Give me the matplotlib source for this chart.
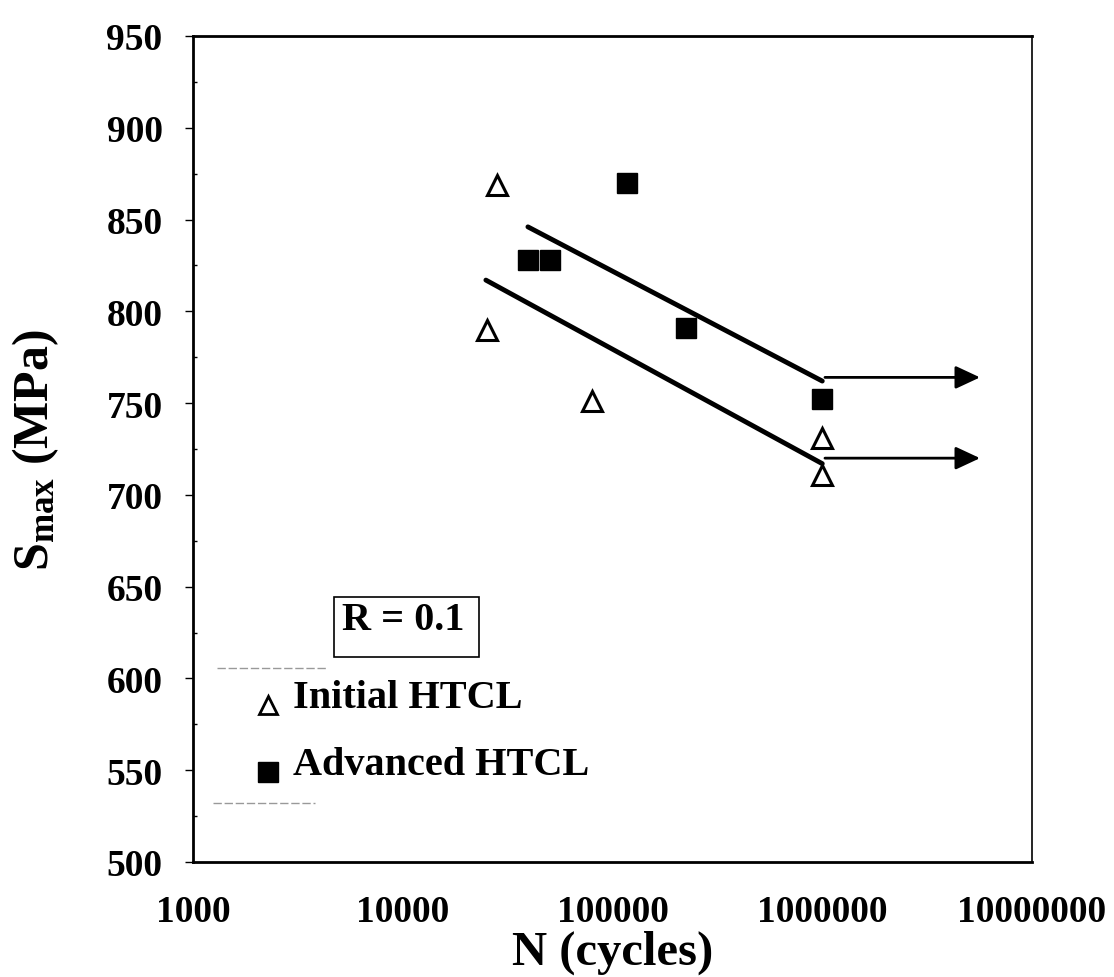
import numpy as np
import matplotlib
matplotlib.use('Agg')
from matplotlib import pyplot as plt

plt.rcParams['font.family'] = ['Liberation Serif', 'DejaVu Serif']
plt.rcParams['font.weight'] = 'bold'
plt.rcParams['mathtext.fontset'] = 'custom'
plt.rcParams['mathtext.rm'] = 'Liberation Serif:bold'
plt.rcParams['mathtext.bf'] = 'Liberation Serif:bold'
plt.rcParams['mathtext.it'] = 'Liberation Serif:bold'

# data
init_N = [28100, 25200, 79800, 1000000, 1000000]
init_S = [869, 790, 751, 731, 711]
adv_N = [117000, 39500, 50300, 224000, 1000000]
adv_S = [870, 828, 828, 791, 752]

# fitted lines
adv_fit_N = [39500, 1000000]
adv_fit_S = [846, 762]
init_fit_N = [24900, 1000000]
init_fit_S = [817, 717]

# run-out arrows (start N, end N, S)
runout_N = [1030000, 5650000]
runout_S = [764, 720]

xticks = [1000, 10000, 100000, 1000000, 10000000]
yticks = list(range(500, 951, 50))

fig = plt.figure(figsize=(11.14, 9.78), dpi=100)
ax = fig.add_axes([0.1733, 0.1176, 0.7531, 0.8446])

ax.plot(init_fit_N, init_fit_S, color='black', lw=3.5, solid_capstyle='round')
ax.plot(adv_fit_N, adv_fit_S, color='black', lw=3.5, solid_capstyle='round')

for s in runout_S:
    ax.annotate('', xy=(runout_N[1], s), xytext=(runout_N[0], s),
                arrowprops=dict(arrowstyle='-|>,head_length=0.75,head_width=0.35',
                                mutation_scale=20, color='black', lw=2,
                                shrinkA=0, shrinkB=0))

ax.plot(init_N, init_S, linestyle='none', marker='^', markersize=14,
        markerfacecolor='white', markeredgecolor='black', markeredgewidth=2.2)
ax.plot(adv_N, adv_S, linestyle='none', marker='s', markersize=15,
        markerfacecolor='black', markeredgecolor='black')

ax.set_xscale('log')
ax.set_xlim(1000, 10000000)
ax.set_ylim(500, 950)
ax.set_xticks(xticks)
ax.set_xticklabels([str(v) for v in xticks], fontsize=27, fontweight='bold')
ax.set_yticks(yticks)
ax.set_yticklabels([str(v) for v in yticks], fontsize=27, fontweight='bold')
ax.set_yticks(np.arange(525, 950, 50), minor=True)
ax.xaxis.set_minor_locator(matplotlib.ticker.NullLocator())
ax.tick_params(axis='y', which='major', direction='out', length=6, width=1, pad=16)
ax.tick_params(axis='y', which='minor', direction='in', length=3, width=1)
ax.tick_params(axis='x', which='major', length=0, pad=23)

for side in ['left', 'bottom', 'top']:
    ax.spines[side].set_linewidth(2)
ax.spines['right'].set_linewidth(1.2)

ax.set_xlabel('N (cycles)', fontsize=35, fontweight='bold')
ax.xaxis.set_label_coords(0.5, -0.082)
ax.set_ylabel(r'S$_{\mathbf{max}}$ (MPa)', fontsize=36, fontweight='bold')
ax.yaxis.set_label_coords(-0.157, 0.5)

# R = 0.1 box and hand-made legend
ax.add_patch(plt.Rectangle((0.168, 0.248), 0.173, 0.073, transform=ax.transAxes,
                           facecolor='white', edgecolor='black', lw=1.2))
ax.text(0.178, 0.282, 'R = 0.1', transform=ax.transAxes, fontsize=29,
        fontweight='bold', va='baseline', ha='left')
ax.text(0.119, 0.1877, 'Initial HTCL', transform=ax.transAxes, fontsize=29,
        fontweight='bold', va='baseline', ha='left')
ax.text(0.119, 0.1065, 'Advanced HTCL', transform=ax.transAxes, fontsize=29,
        fontweight='bold', va='baseline', ha='left')
ax.plot([0.0894], [0.190], marker='^', markersize=13, markerfacecolor='white',
        markeredgecolor='black', markeredgewidth=2, transform=ax.transAxes)
ax.plot([0.0894], [0.109], marker='s', markersize=15, color='black',
        transform=ax.transAxes)
# faint grey dashes around the legend
ax.plot([0.029, 0.161], [0.235, 0.235], color='0.6', lw=1, ls=(0, (6, 2)),
        transform=ax.transAxes)
ax.plot([0.024, 0.145], [0.071, 0.071], color='0.6', lw=1, ls=(0, (6, 2)),
        transform=ax.transAxes)

fig.savefig('out.png', dpi=100)
